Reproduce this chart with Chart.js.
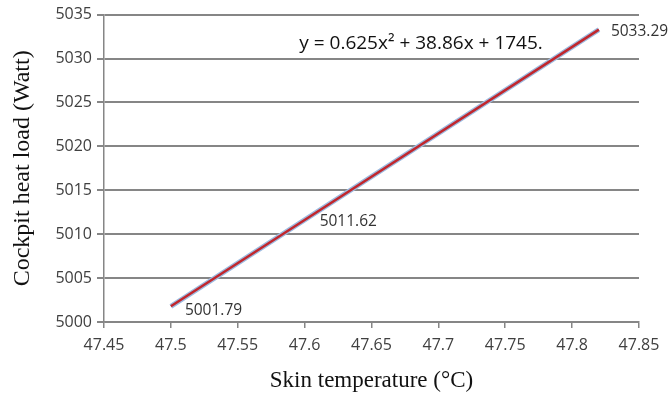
<!DOCTYPE html>
<html>
<head>
<meta charset="utf-8">
<script src="https://cdn.jsdelivr.net/npm/chart.js@4"></script>
<style>
  html, body { margin: 0; padding: 0; background: #fff; }
  #wrap { width: 672px; height: 399px; }
</style>
</head>
<body>
<div id="wrap"><canvas id="myChart" width="672" height="399"></canvas></div>
<script>
const skinTemp = [47.5, 47.6, 47.82];
const heatLoad = [5001.79, 5011.62, 5033.29];
const pointLabels = ['5001.79', '5011.62', '5033.29'];
const xTicks = [47.45, 47.5, 47.55, 47.6, 47.65, 47.7, 47.75, 47.8, 47.85];
const yTicks = [5000, 5005, 5010, 5015, 5020, 5025, 5030, 5035];
const equation = 'y = 0.625x\u00b2 + 38.86x + 1745.';

const points = skinTemp.map((x, i) => ({ x: x, y: heatLoad[i] }));

// value labels next to each point and the trendline equation
const labelPlugin = {
  id: 'labels',
  afterDatasetsDraw(chart) {
    const c = chart.ctx;
    const xs = chart.scales.x, ys = chart.scales.y;
    c.save();
    c.font = '15.5px "Open Sans", sans-serif';
    c.fillStyle = '#333';
    c.textBaseline = 'middle';
    c.textAlign = 'left';
    const offs = [[14, 4], [15, 2], [12, 2]];
    points.forEach((p, i) => {
      c.fillText(pointLabels[i], xs.getPixelForValue(p.x) + offs[i][0], ys.getPixelForValue(p.y) + offs[i][1]);
    });
    c.font = '19px "Open Sans", sans-serif';
    c.fillStyle = '#111';
    c.fillText(equation, xs.getPixelForValue(47.596), ys.getPixelForValue(5031.7));
    c.restore();
  }
};

new Chart(document.getElementById('myChart'), {
  type: 'scatter',
  data: {
    datasets: [
      {
        data: points,
        showLine: true,
        borderColor: '#9dbbe0',
        borderWidth: 5,
        pointRadius: 0,
        order: 2
      },
      {
        data: points,
        showLine: true,
        borderColor: '#c1272d',
        borderWidth: 2.5,
        pointRadius: 0,
        order: 1
      }
    ]
  },
  options: {
    responsive: false,
    animation: false,
    layout: { padding: { top: 14, right: 33, left: 4, bottom: 0 } },
    plugins: { legend: { display: false }, tooltip: { enabled: false } },
    scales: {
      x: {
        type: 'linear',
        min: 47.45,
        max: 47.85,
        afterBuildTicks: s => { s.ticks = xTicks.map(v => ({ value: v })); },
        afterFit: s => { s.height = 77; },
        ticks: {
          color: '#404040',
          font: { family: '"Open Sans", sans-serif', size: 16 },
          padding: 8,
          callback: v => String(v)
        },
        grid: { drawOnChartArea: false, color: '#868686', lineWidth: 1.5, tickLength: 6 },
        border: { color: '#868686', width: 1.5 },
        title: {
          display: true,
          text: 'Skin temperature (\u00b0C)',
          color: '#111',
          font: { family: '"Liberation Serif", serif', size: 23 },
          padding: { top: 0 }
        }
      },
      y: {
        min: 5000,
        max: 5035,
        afterBuildTicks: s => { s.ticks = yTicks.map(v => ({ value: v })); },
        afterFit: s => { s.width = 100; },
        ticks: {
          color: '#404040',
          font: { family: '"Open Sans", sans-serif', size: 16 },
          padding: 5,
          callback: v => String(v)
        },
        grid: { color: '#868686', lineWidth: 2, tickLength: 7 },
        border: { color: '#868686', width: 1.5 },
        title: {
          display: true,
          text: 'Cockpit heat load (Watt)',
          color: '#111',
          font: { family: '"Liberation Serif", serif', size: 24 },
          padding: { bottom: 2 }
        }
      }
    }
  },
  plugins: [labelPlugin]
});
</script>
</body>
</html>
